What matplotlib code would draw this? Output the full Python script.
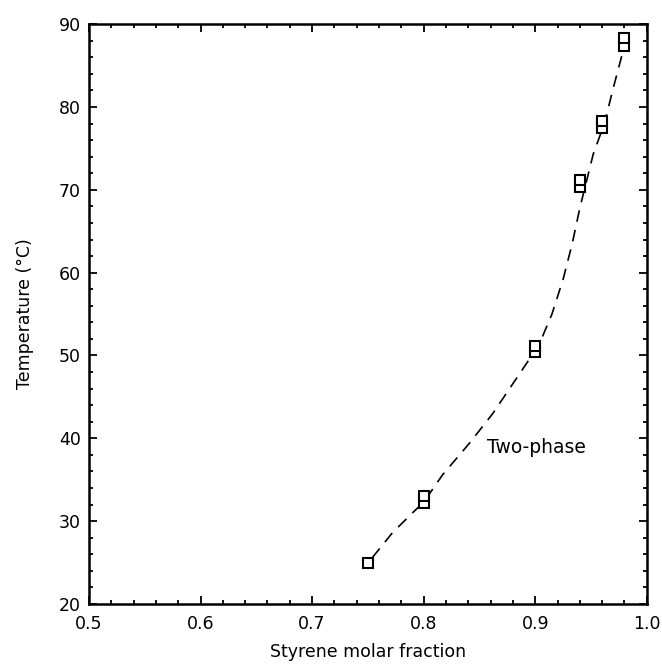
import numpy as np
import matplotlib.pyplot as plt
from matplotlib.ticker import MultipleLocator

# measured cloud points (two readings per composition)
frac = [0.75, 0.80, 0.80, 0.90, 0.90, 0.94, 0.94, 0.96, 0.96, 0.98, 0.98]
temp = [25.0, 32.2, 33.0, 50.4, 51.2, 70.3, 71.2, 77.4, 78.3, 87.4, 88.3]

# dashed boundary
curve_x = [0.754, 0.772, 0.790, 0.800, 0.817, 0.841, 0.862, 0.880, 0.895,
           0.905, 0.915, 0.925, 0.933, 0.940, 0.952, 0.962, 0.970, 0.980]
curve_y = [25.6, 28.6, 31.0, 32.3, 35.6, 39.4, 43.0, 46.6, 49.6,
           51.8, 55.0, 59.2, 63.4, 67.8, 74.3, 78.0, 82.3, 87.4]

fig = plt.figure(figsize=(6.62, 6.70), dpi=100)
ax = fig.add_axes([0.1344, 0.0985, 0.8426, 0.8655])

ax.plot(curve_x, curve_y, color='black', lw=1.2, dashes=(7, 5))
ax.plot(frac, temp, ls='none', marker='s', ms=6.5, mfc='white',
        mec='black', mew=1.5)

ax.text(0.857, 38.9, 'Two-phase', fontsize=13.5, va='center', ha='left')

ax.set_xlim(0.5, 1.0)
ax.set_ylim(20, 90)
ax.xaxis.set_major_locator(MultipleLocator(0.1))
ax.xaxis.set_minor_locator(MultipleLocator(0.02))
ax.yaxis.set_major_locator(MultipleLocator(10))
ax.yaxis.set_minor_locator(MultipleLocator(2))
ax.xaxis.set_major_formatter(plt.FuncFormatter(lambda v, p: '%.1f' % v))

ax.tick_params(which='both', direction='in', top=True, right=True,
               labelsize=12.5, width=1.3)
ax.tick_params(which='major', length=6)
ax.tick_params(which='minor', length=3)
ax.tick_params(axis='x', pad=8)
ax.tick_params(axis='y', pad=6)
for s in ax.spines.values():
    s.set_linewidth(1.8)

ax.set_xlabel('Styrene molar fraction', fontsize=12.5, labelpad=7)
ax.set_ylabel('Temperature (°C)', fontsize=12.5, labelpad=18)

fig.savefig('out.png', dpi=100)
